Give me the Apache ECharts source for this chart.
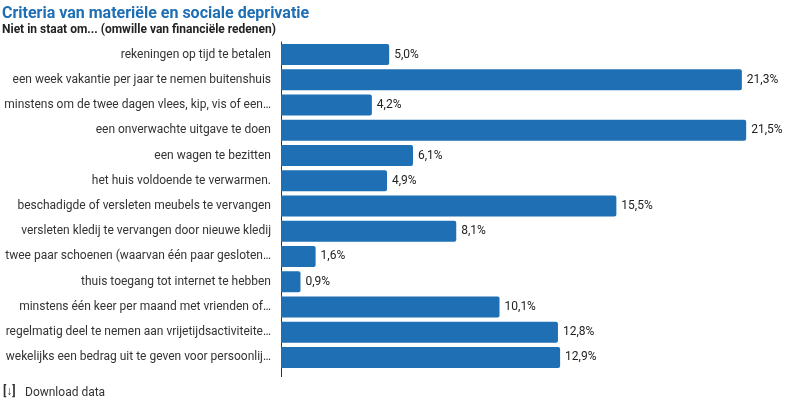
<!DOCTYPE html>
<html>
<head>
<meta charset="utf-8">
<script src="https://cdn.jsdelivr.net/npm/echarts@6/dist/echarts.min.js"></script>
<style>
  html, body { margin: 0; padding: 0; background: #fff; }
  #chart { width: 799px; height: 400px; }
</style>
</head>
<body>
<div id="chart"></div>
<script>
// categorieën (zoals getoond, ingekort)
const categories = [
  'rekeningen op tijd te betalen',
  'een week vakantie per jaar te nemen buitenshuis',
  'minstens om de twee dagen vlees, kip, vis of een…',
  'een onverwachte uitgave te doen',
  'een wagen te bezitten',
  'het huis voldoende te verwarmen.',
  'beschadigde of versleten meubels te vervangen',
  'versleten kledij te vervangen door nieuwe kledij',
  'twee paar schoenen (waarvan één paar gesloten…',
  'thuis toegang tot internet te hebben',
  'minstens één keer per maand met vrienden of…',
  'regelmatig deel te nemen aan vrijetijdsactiviteite…',
  'wekelijks een bedrag uit te geven voor persoonlij…'
];
// percentages
const values = [5.0, 21.3, 4.2, 21.5, 6.1, 4.9, 15.5, 8.1, 1.6, 0.9, 10.1, 12.8, 12.9];

const chart = echarts.init(document.getElementById('chart'));
const option = {
  animation: false,
  textStyle: { fontFamily: 'Roboto' },
  title: {
    text: 'Criteria van materiële en sociale deprivatie',
    subtext: 'Niet in staat om... (omwille van financiële redenen)',
    left: 2,
    top: 6,
    padding: 0,
    itemGap: 2,
    textStyle: { color: '#1d6eb5', fontSize: 16, fontWeight: 'bold', fontFamily: 'Roboto' },
    subtextStyle: { color: '#222', fontSize: 12, fontWeight: 'bold', fontFamily: 'Roboto' }
  },
  grid: { left: 281, top: 42, width: 476, height: 328 },
  xAxis: {
    type: 'value',
    min: 0,
    max: 22,
    show: false
  },
  yAxis: {
    type: 'category',
    inverse: true,
    data: categories,
    axisLine: { show: true, lineStyle: { color: '#333', width: 1 } },
    axisTick: { show: false },
    axisLabel: { color: '#333', fontSize: 12, margin: 10 }
  },
  series: [{
    type: 'bar',
    data: values,
    barWidth: 21,
    itemStyle: { color: '#1f6fb4', borderRadius: [0, 2, 2, 0] },
    label: {
      show: true,
      position: 'right',
      distance: 5,
      color: '#222',
      fontSize: 12,
      formatter: p => p.value.toFixed(1).replace('.', ',') + '%'
    }
  }],
  graphic: [
    {
      type: 'line', shape: { x1: 281.5, y1: 370, x2: 281.5, y2: 377 },
      style: { stroke: '#333', lineWidth: 1 }
    },
    {
      type: 'text', left: 3, top: 386,
      style: { text: '[↓]', fill: '#333', font: 'bold 12px Roboto' }
    },
    {
      type: 'text', left: 25, top: 387,
      style: { text: 'Download data', fill: '#333', font: '12px Roboto' }
    }
  ]
};
chart.setOption(option);
</script>
</body>
</html>
